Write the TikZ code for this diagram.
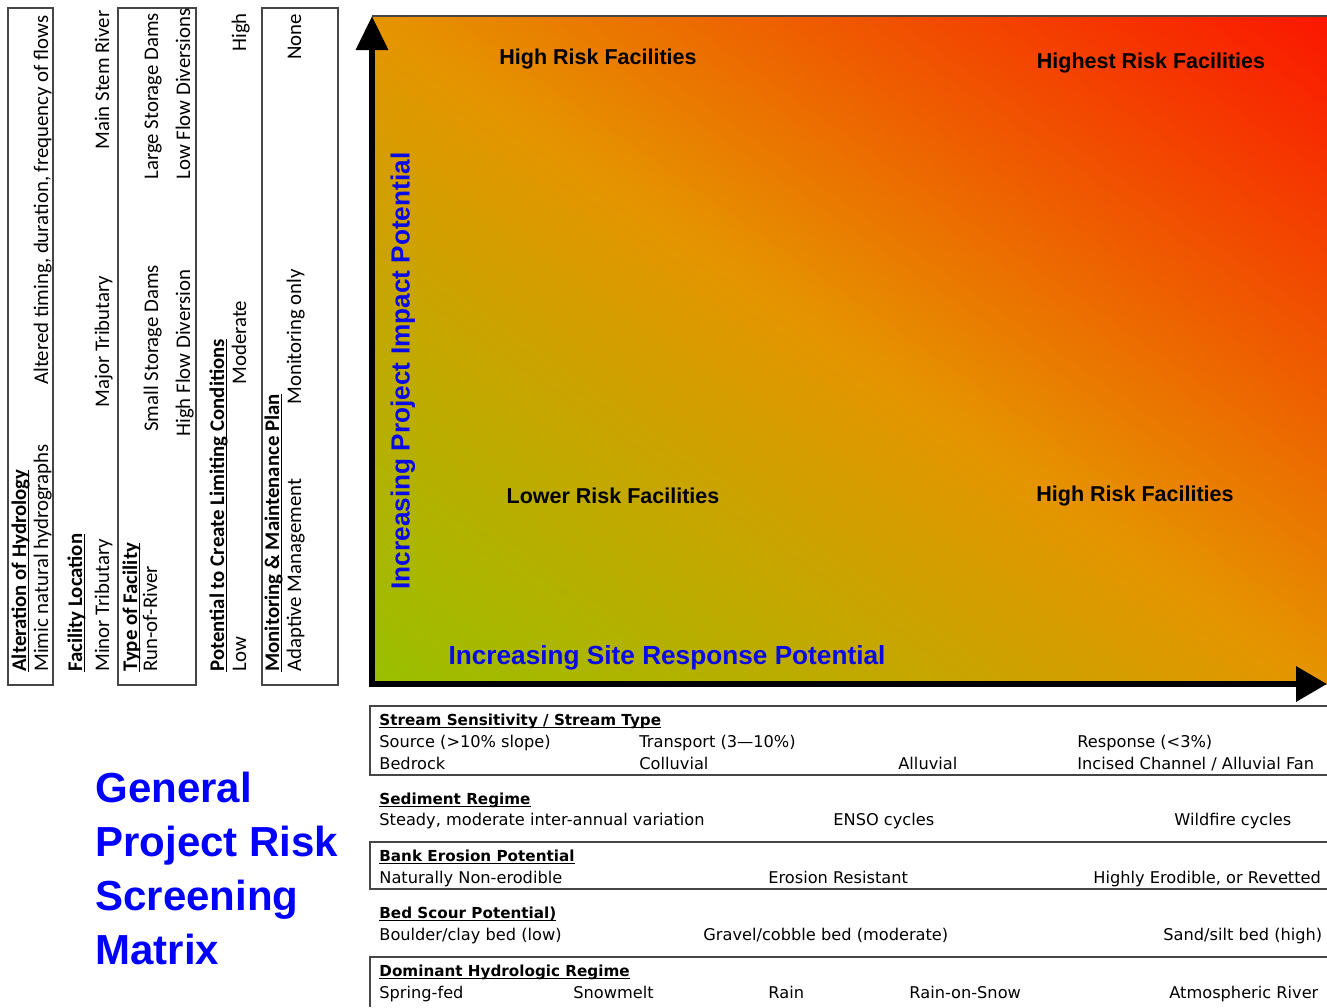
\documentclass[tikz,border=0pt]{standalone}
\usepackage{fontspec}
\setmainfont{DejaVu Sans}
\newfontfamily\colfont{Carlito}
\newfontfamily\arialfont{Liberation Sans}
\usetikzlibrary{arrows.meta}

\definecolor{axblue}{RGB}{10,10,230}
\definecolor{titleblue}{RGB}{0,0,255}
\definecolor{riskgreen}{RGB}{140,200,0}
\definecolor{riskorange}{RGB}{229,148,0}
\definecolor{riskred}{RGB}{255,0,0}
\definecolor{framegray}{RGB}{70,70,70}

\pgfdeclareverticalshading{riskfade}{100bp}{color(0bp)=(riskgreen); color(9bp)=(riskgreen); color(50bp)=(riskorange); color(91bp)=(riskred); color(100bp)=(riskred)}
% underline that sits just under the baseline
\newcommand\headline[1]{\underline{\smash{#1}}}

\begin{document}
\begin{tikzpicture}[
	x=0.5pt, y=-0.5pt,
	coltxt/.style={rotate=90, anchor=base west, inner sep=0pt, font=\colfont\fontsize{10.4}{12}\selectfont},
	colhead/.style={coltxt, font=\colfont\bfseries\fontsize{10.4}{12}\selectfont},
	rowtxt/.style={anchor=base west, inner sep=0pt, font=\fontsize{8.1}{10}\selectfont},
	rowhead/.style={rowtxt, font=\bfseries\fontsize{7.6}{10}\selectfont},
	risk/.style={inner sep=0pt, font=\arialfont\bfseries\fontsize{10.75}{13}\selectfont},
	axlabel/.style={inner sep=0pt, text=axblue, font=\arialfont\bfseries\fontsize{13.1}{15}\selectfont},
	title/.style={anchor=north west, align=left, inner sep=0pt, text=titleblue, font=\arialfont\bfseries\fontsize{21}{26.9}\selectfont},
	panel/.style={draw=framegray, line width=0.75pt},
	axisline/.style={line width=3.25pt, line join=miter, {Triangle[length=17pt,width=15.5pt]}-{Triangle[length=15.5pt,width=17pt]}}
]
\useasboundingbox (0,0) rectangle (1327,1007);

%% Matrix field and axes
\shade[shading=riskfade, shading angle=-34.97] (372,16) rectangle (1327,684);
\draw[framegray, line width=0.6pt] (372,16) -- (1327,16);
\coordinate (origin) at (372,684);
\coordinate (ytip) at (372,16);
\coordinate (xtip) at (1327,684);
\draw[axisline] (ytip) -- (origin) -- (xtip);

\node[risk] (tl) at (598,59) {High Risk Facilities};
\node[risk] (tr) at (1151,63) {Highest Risk Facilities};
\node[risk] (bl) at (613,496) {Lower Risk Facilities};
\node[risk] (br) at (1135,496) {High Risk Facilities};
\node[axlabel] (xlab) at (667,658) {Increasing Site Response Potential};
\node[axlabel, rotate=90] (ylab) at (403,371) {Increasing Project Impact Potential};

%% Project factors (left column)
\draw[panel] (8,8) rectangle (53,685);
\draw[panel] (118,8) rectangle (196,685);
\draw[panel] (262,8) rectangle (338,685);

\node[colhead] (hydhead) at (26,672) {\headline{Alteration of Hydrology}};
\node[coltxt] (hydlo) at (48,672) {Mimic natural hydrographs};
\node[coltxt] (hydhi) at (48,385) {Altered timing, duration, frequency of flows};

\node[colhead] (lochead) at (82,672) {\headline{Facility Location}};
\node[coltxt] (locminor) at (109,672) {Minor Tributary};
\node[coltxt] (locmajor) at (109,408) {Major Tributary};
\node[coltxt] (locmain) at (109,150) {Main Stem River};

\node[colhead] (typehead) at (137,672) {\headline{Type of Facility}};
\node[coltxt] (typeror) at (157,672) {Run-of-River};
\node[coltxt] (typesmall) at (158,432) {Small Storage Dams};
\node[coltxt] (typelarge) at (158,180) {Large Storage Dams};
\node[coltxt] (typehigh) at (190,437) {High Flow Diversion};
\node[coltxt] (typelow) at (190,180) {Low Flow Diversions};

\node[colhead] (limhead) at (224,672) {\headline{Potential to Create Limiting Conditions}};
\node[coltxt] (limlow) at (246,672) {Low};
\node[coltxt] (limmod) at (246,385) {Moderate};
\node[coltxt] (limhigh) at (246,52) {High};

\node[colhead] (monhead) at (279,672) {\headline{Monitoring \& Maintenance Plan}};
\node[coltxt] (monadapt) at (301,672) {Adaptive Management};
\node[coltxt] (mononly) at (301,405) {Monitoring only};
\node[coltxt] (monnone) at (301,60) {None};

%% Site factors (bottom rows)
\draw[panel] (1327,706) -| (370,775) -- (1327,775);
\draw[panel] (1327,842) -| (370,889) -- (1327,889);
\draw[panel] (1327,957) -| (370,1007);

\node[rowhead] (ssthead) at (379,725) {\headline{Stream Sensitivity / Stream Type}};
\node[rowtxt] (sstsource) at (379,747) {Source (>10\% slope)};
\node[rowtxt] (ssttransport) at (639,747) {Transport (3—10\%)};
\node[rowtxt] (sstresponse) at (1077,747) {Response (<3\%)};
\node[rowtxt] (sstbedrock) at (379,769) {Bedrock};
\node[rowtxt] (sstcolluvial) at (639,769) {Colluvial};
\node[rowtxt] (sstalluvial) at (898,769) {Alluvial};
\node[rowtxt] (sstincised) at (1077,769) {Incised Channel / Alluvial Fan};

\node[rowhead] (sedhead) at (379,804) {\headline{Sediment Regime}};
\node[rowtxt] (sedsteady) at (379,825) {Steady, moderate inter-annual variation};
\node[rowtxt] (sedenso) at (833,825) {ENSO cycles};
\node[rowtxt] (sedfire) at (1174,825) {Wildfire cycles};

\node[rowhead] (bankhead) at (379,861) {\headline{Bank Erosion Potential}};
\node[rowtxt] (banknon) at (379,883) {Naturally Non-erodible};
\node[rowtxt] (bankres) at (768,883) {Erosion Resistant};
\node[rowtxt] (bankhigh) at (1093,883) {Highly Erodible, or Revetted};

\node[rowhead] (bedhead) at (379,918) {\headline{Bed Scour Potential)}};
\node[rowtxt] (bedlow) at (379,940) {Boulder/clay bed (low)};
\node[rowtxt] (bedmod) at (703,940) {Gravel/cobble bed (moderate)};
\node[rowtxt] (bedhigh) at (1163,940) {Sand/silt bed (high)};

\node[rowhead] (hydrohead) at (379,976) {\headline{Dominant Hydrologic Regime}};
\node[rowtxt] (hydrospring) at (379,998) {Spring-fed};
\node[rowtxt] (hydrosnow) at (573,998) {Snowmelt};
\node[rowtxt] (hydrorain) at (768,998) {Rain};
\node[rowtxt] (hydroros) at (909,998) {Rain-on-Snow};
\node[rowtxt] (hydroar) at (1169,998) {Atmospheric River};

%% Title
\node[title] (title) at (95,772) {General\\Project Risk\\Screening\\Matrix};

\end{tikzpicture}
\end{document}
